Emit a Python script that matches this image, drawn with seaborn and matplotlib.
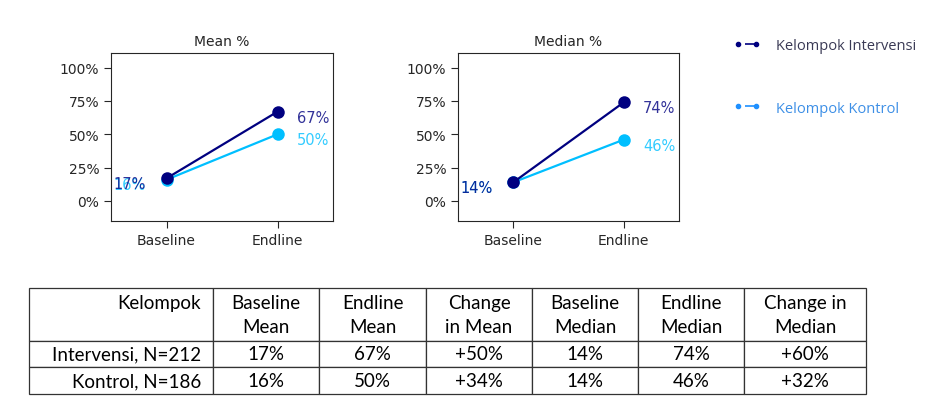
import numpy as np
import pandas as pd
import matplotlib
matplotlib.use("Agg")
import matplotlib.pyplot as plt
import seaborn as sns
from matplotlib.lines import Line2D
from matplotlib.ticker import PercentFormatter

# data
waktu = ["Baseline", "Endline"]
kelompok = ["Kelompok Intervensi", "Kelompok Kontrol"]
mean_intervensi = [17, 67]
mean_kontrol = [16, 50]
median_intervensi = [14, 74]
median_kontrol = [14, 46]
n_intervensi = 212
n_kontrol = 186

col_intervensi = "navy"
col_kontrol = "deepskyblue"

sns.set_style("ticks")
plt.rcParams["font.family"] = ["DejaVu Sans"]

fig = plt.figure(figsize=(9.4, 4.06), dpi=100)
W, H = 940, 406


def px_axes(x0, y0, x1, y1):
    # pixel box (top-left origin) -> figure axes
    return fig.add_axes([x0 / W, 1 - y1 / H, (x1 - x0) / W, (y1 - y0) / H])


def draw_panel(ax, interv, kontrol, title):
    df = pd.DataFrame({
        "waktu": waktu * 2,
        "nilai": kontrol + interv,
        "kelompok": ["Kontrol"] * 2 + ["Intervensi"] * 2,
    })
    sns.pointplot(data=df, x="waktu", y="nilai", hue="kelompok",
                  hue_order=["Kontrol", "Intervensi"],
                  palette=[col_kontrol, col_intervensi],
                  errorbar=None, markersize=7.8, linewidth=1.6,
                  legend=False, ax=ax)
    for vals, c in [(kontrol, col_kontrol), (interv, col_intervensi)]:
        ax.annotate(f"{vals[0]}%", (0, vals[0]), xytext=(-15, -3.5),
                    textcoords="offset points", ha="right", va="center",
                    color=c, alpha=0.8, fontsize=10.5)
        ax.annotate(f"{vals[1]}%", (1, vals[1]), xytext=(14, -4),
                    textcoords="offset points", ha="left", va="center",
                    color=c, alpha=0.8, fontsize=10.5)
    ax.set_xlim(-0.5, 1.5)
    ax.set_ylim(-15, 111)
    ax.set_yticks([0, 25, 50, 75, 100])
    ax.yaxis.set_major_formatter(PercentFormatter(100, decimals=0))
    ax.set_xlabel("")
    ax.set_ylabel("")
    ax.set_title(title, fontsize=10)
    ax.tick_params(labelsize=10, length=5)


ax1 = px_axes(111, 54, 333, 222)
draw_panel(ax1, mean_intervensi, mean_kontrol, "Mean %")
ax2 = px_axes(458, 54, 679, 222)
draw_panel(ax2, median_intervensi, median_kontrol, "Median %")

# legend on the right
handles = [
    Line2D([0], [0], color=col_intervensi, marker="o", markersize=3,
           linewidth=1.2, linestyle=(7.8, (7.8, 4.2))),
    Line2D([0], [0], color="dodgerblue", marker="o", markersize=3,
           linewidth=1.2, linestyle=(7.8, (7.8, 4.2))),
]
leg = fig.legend(handles, kelompok, loc="upper left",
                 bbox_to_anchor=(720 / W, 1 - 26 / H), frameon=False,
                 numpoints=2, handlelength=1.85, handletextpad=1.1,
                 labelspacing=3.25, prop={"family": "Open Sans", "size": 10.5})
for t, c in zip(leg.get_texts(), ["#3a3a55", "#3d8fe6"]):
    t.set_color(c)

# table under the charts
col_labels = ["Kelompok", "Baseline\nMean", "Endline\nMean", "Change\nin Mean",
              "Baseline\nMedian", "Endline\nMedian", "Change in\nMedian"]
rows = [
    (f"Intervensi, N={n_intervensi}", mean_intervensi, median_intervensi),
    (f"Kontrol, N={n_kontrol}", mean_kontrol, median_kontrol),
]
cell_text = []
for name, mn, md in rows:
    cell_text.append([name, f"{mn[0]}%", f"{mn[1]}%", f"+{mn[1] - mn[0]}%",
                      f"{md[0]}%", f"{md[1]}%", f"+{md[1] - md[0]}%"])

tax = px_axes(29, 289, 866, 395)
tax.axis("off")
col_x = [29, 213, 319, 426, 532, 638, 744, 866]
widths = [(col_x[i + 1] - col_x[i]) / (866 - 29) for i in range(7)]
tbl = tax.table(cellText=cell_text, colLabels=col_labels, colWidths=widths,
                bbox=[0, 0, 1, 1], cellLoc="center")
tbl.auto_set_font_size(False)
row_h = [52.5, 26.5, 27.0]
tot = sum(row_h)
for (r, c), cell in tbl.get_celld().items():
    cell.set_height(row_h[r] / tot)
    cell.set_linewidth(0.9)
    cell.set_edgecolor("#333333")
    txt = cell.get_text()
    txt.set_fontfamily("Lato")
    txt.set_fontsize(13.5)
    txt.set_color("black")
    if r == 0:
        txt.set_linespacing(1.5)
    if c == 0:
        cell.set_text_props(ha="right")
        cell.PAD = 0.065
        if r == 0:
            txt.set_text("Kelompok\n ")

fig.savefig("out.png", dpi=100)
